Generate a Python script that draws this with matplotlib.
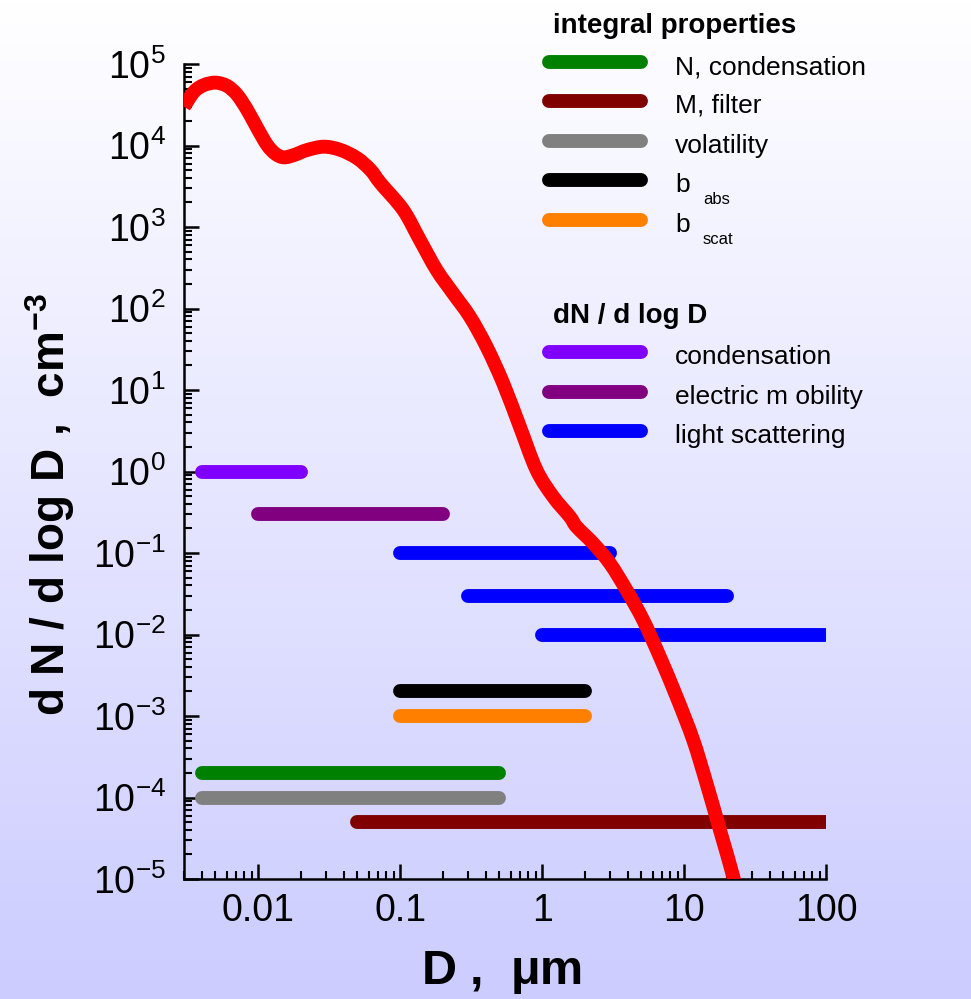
import numpy as np
import matplotlib
matplotlib.use('Agg')
import matplotlib.pyplot as plt
from matplotlib.lines import Line2D
from matplotlib.path import Path
from matplotlib.patches import PathPatch
from matplotlib.ticker import LogLocator, NullFormatter

plt.rcParams['font.family'] = ['Liberation Sans', 'DejaVu Sans']
plt.rcParams['mathtext.fontset'] = 'custom'
plt.rcParams['mathtext.rm'] = 'Liberation Sans'
plt.rcParams['mathtext.it'] = 'Liberation Sans:italic'
plt.rcParams['mathtext.bf'] = 'Liberation Sans:bold'

# size distribution
diam = [0.0030, 0.00353, 0.00415, 0.00502, 0.00605, 0.00712, 0.00837, 0.00985,
        0.01158, 0.01327, 0.01518, 0.01786, 0.02216, 0.02904, 0.03808, 0.04984,
        0.0619, 0.0728, 0.1051, 0.1378, 0.1806, 0.2364, 0.310, 0.406, 0.532,
        0.697, 0.914, 1.196, 1.568, 1.749, 2.288, 3.0, 3.93, 5.15, 6.75, 8.85,
        11.6, 14.4, 17.9, 22.2, 24.5]
dndlogd = [2.99e4, 4.57e4, 5.52e4, 5.90e4, 5.37e4, 4.17e4, 2.73e4, 1.63e4,
           1.01e4, 7.87e3, 7.16e3, 7.64e3, 8.81e3, 9.67e3, 8.81e3, 6.97e3,
           5.00e3, 3.44e3, 1.62e3, 692, 297, 153, 79.3, 34.0, 12.1,
           3.55, 1.04, 0.491, 0.279, 0.210, 0.1315, 0.0748, 0.0351, 0.01506, 5.34e-3, 1.73e-3,
           5.08e-4, 1.49e-4, 3.99e-5, 1.07e-5, 5e-6]

# measurement ranges of the instruments
range_lo = [0.004, 0.05, 0.004, 0.1, 0.1, 0.004, 0.01, 0.1, 0.3, 1.0]
range_hi = [0.5, 200, 0.5, 2.0, 2.0, 0.02, 0.2, 3.0, 20.0, 200]
range_level = [2e-4, 5e-5, 1e-4, 2e-3, 1e-3, 1.0, 0.3, 0.1, 0.03, 0.01]
range_color = ['#008000', '#800000', '#808080', '#000000', '#FF8000',
               '#8000FF', '#800080', '#0000FF', '#0000FF', '#0000FF']

# legend
grp1_title = 'integral properties'
grp1_labels = ['N, condensation', 'M, filter', 'volatility', 'b', 'b']
grp1_subs = ['', '', '', 'abs', 'scat']
grp1_colors = ['#008000', '#800000', '#808080', '#000000', '#FF8000']
grp2_title = 'dN / d log D'
grp2_labels = ['condensation', 'electric m obility', 'light scattering']
grp2_colors = ['#8000FF', '#800080', '#0000FF']

W, H = 971, 999


def fx(px):
    return px / W


def fy(py):
    return 1 - py / H


def smooth_path(xs, ys):
    # catmull-rom through the points, built in log space so it looks right on log axes
    p = np.column_stack([np.log10(xs), np.log10(ys)])
    p = np.vstack([p[0], p, p[-1]])
    verts = [p[1]]
    codes = [Path.MOVETO]
    for i in range(1, len(p) - 2):
        c1 = p[i] + (p[i + 1] - p[i - 1]) / 6
        c2 = p[i + 1] - (p[i + 2] - p[i]) / 6
        verts += [c1, c2, p[i + 1]]
        codes += [Path.CURVE4] * 3
    return Path(10.0 ** np.array(verts), codes)


fig = plt.figure(figsize=(9.71, 9.99), dpi=100)

# background gradient
bg = fig.add_axes([0, 0, 1, 1], zorder=-5)
g = np.linspace(0, 1, 256)[:, None]
img = np.ones((256, 1, 3))
img[..., 0] = 1 - 0.20 * g
img[..., 1] = 1 - 0.20 * g
bg.imshow(img, aspect='auto', extent=[0, 1, 0, 1])
bg.axis('off')

ax = fig.add_axes([fx(184), 1 - 879 / H, (826 - 184) / W, (879 - 64) / H])
ax.set_facecolor('none')

for lo, hi, lev, c in zip(range_lo, range_hi, range_level, range_color):
    ax.plot([lo, hi], [lev, lev], color=c, lw=10, solid_capstyle='round', zorder=3)

ax.set_xscale('log')
ax.set_yscale('log')
ax.set_xlim(0.003, 100)
ax.set_ylim(1e-5, 1e5)

ax.add_patch(PathPatch(smooth_path(diam, dndlogd), fill=False, edgecolor='#FF0000',
                       lw=10, joinstyle='round', capstyle='butt', zorder=5))

for s in ['top', 'right']:
    ax.spines[s].set_visible(False)
for s in ['left', 'bottom']:
    ax.spines[s].set_linewidth(1.8)

xt = [0.01, 0.1, 1, 10, 100]
ax.set_xticks(xt, ['0.01', '0.1', '1', '10', '100'])
yt = [10.0 ** k for k in range(-5, 6)]
ax.set_yticks(yt, [r'$\mathregular{10^{%d}}$' % k for k in range(-5, 6)])
ax.xaxis.set_minor_locator(LogLocator(base=10, subs=np.arange(2, 10), numticks=20))
ax.yaxis.set_minor_locator(LogLocator(base=10, subs=np.arange(2, 10), numticks=20))
ax.xaxis.set_minor_formatter(NullFormatter())
ax.yaxis.set_minor_formatter(NullFormatter())
ax.tick_params(which='major', direction='in', length=11, width=1.8, labelsize=27)
ax.tick_params(which='minor', direction='in', length=6, width=1.5)
ax.tick_params(axis='y', which='major', pad=13)
ax.tick_params(axis='x', which='major', pad=10)

fig.text(fx(502), fy(984), r'D ,  $\mathbf{\mu}$m', fontsize=35, fontweight='bold',
         ha='center', va='baseline')
fig.text(fx(50), fy(505), r'd N / d log D ,  cm$^{\mathbf{-3}}$', fontsize=33,
         fontweight='bold', rotation=90, ha='center', va='center')

# legend, group 1
fig.text(fx(553), fy(33), grp1_title, fontsize=20, fontweight='bold', ha='left', va='baseline')
rows1 = [62, 101, 141, 180, 220]
for r, lab, sub, c in zip(rows1, grp1_labels, grp1_subs, grp1_colors):
    fig.add_artist(Line2D([fx(549), fx(641)], [fy(r), fy(r)], transform=fig.transFigure,
                          color=c, lw=10, solid_capstyle='round'))
    fig.text(fx(675), fy(r + 12), lab, fontsize=19, ha='left', va='baseline')
    if sub:
        fig.text(fx(703), fy(r + 24), sub, fontsize=12, ha='left', va='baseline')

# legend, group 2
fig.text(fx(553), fy(323), grp2_title, fontsize=20, fontweight='bold', ha='left', va='baseline')
rows2 = [352, 392, 431]
for r, lab, c in zip(rows2, grp2_labels, grp2_colors):
    fig.add_artist(Line2D([fx(549), fx(641)], [fy(r), fy(r)], transform=fig.transFigure,
                          color=c, lw=10, solid_capstyle='round'))
    fig.text(fx(675), fy(r + 12), lab, fontsize=19, ha='left', va='baseline')

fig.savefig('out.png', dpi=100)
